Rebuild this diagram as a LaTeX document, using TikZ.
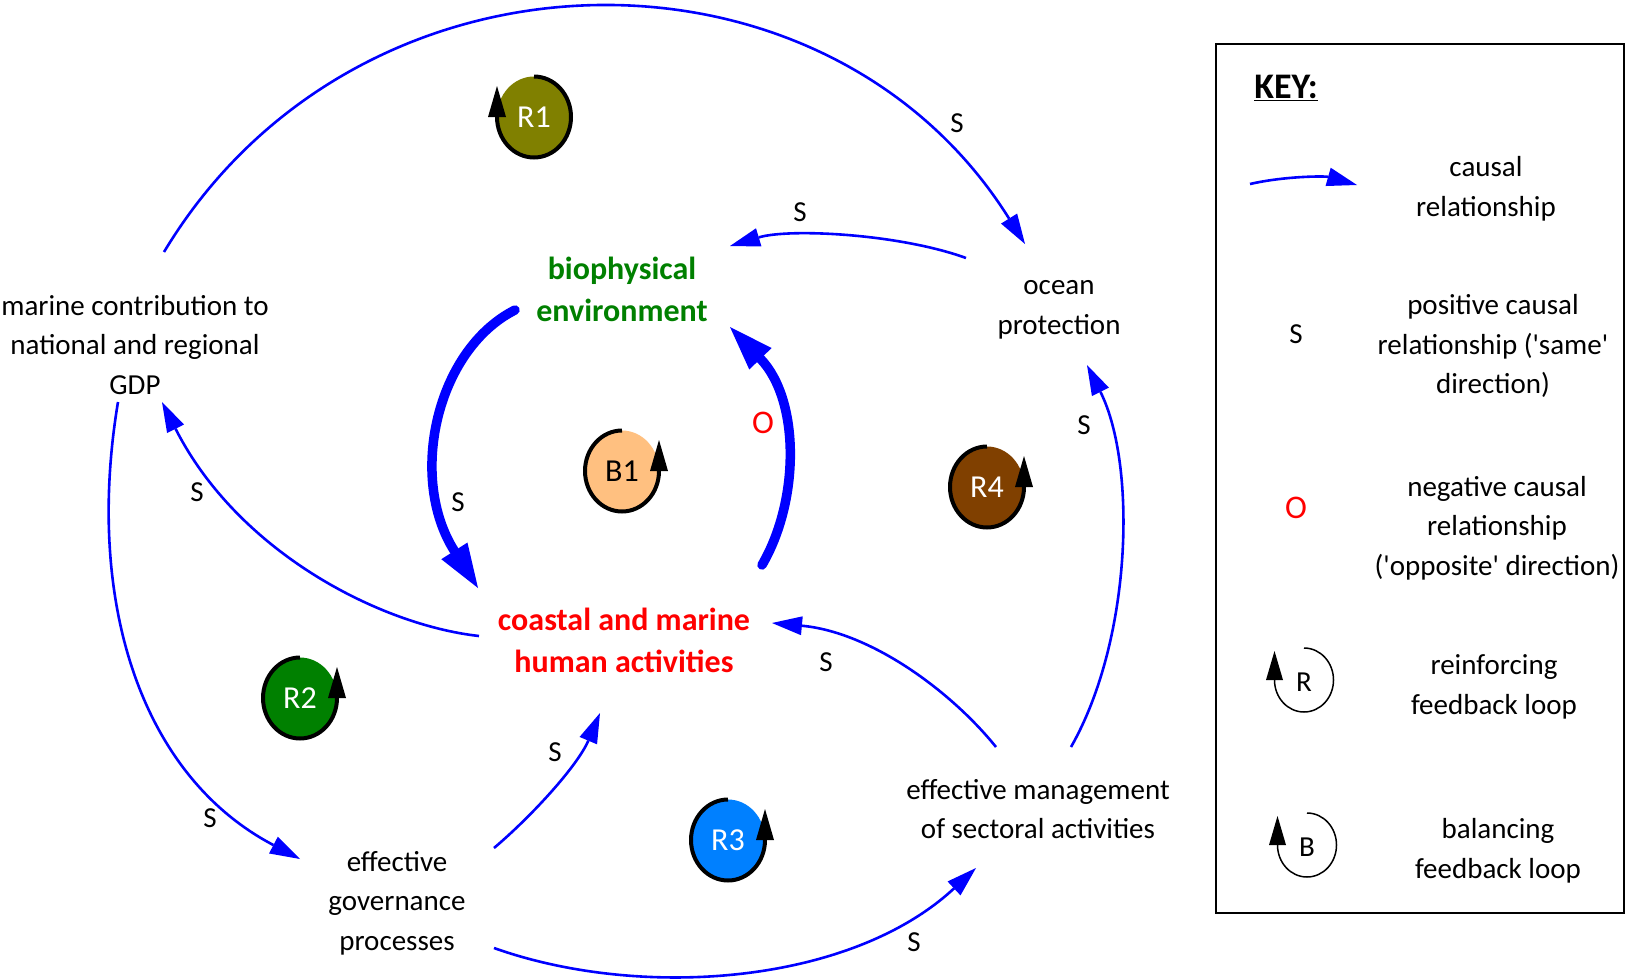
\documentclass[tikz,border=0pt]{standalone}
\usepackage{fontspec}
\setmainfont{Carlito}
\usetikzlibrary{arrows.meta,calc}
\definecolor{cblue}{RGB}{0,0,255}
\definecolor{biogreen}{RGB}{0,128,0}
\definecolor{loopolive}{RGB}{128,128,0}
\definecolor{loopgreen}{RGB}{0,128,0}
\definecolor{loopblue}{RGB}{0,128,255}
\definecolor{loopbrown}{RGB}{128,64,0}
\definecolor{looppeach}{RGB}{255,192,128}
\newcommand\mfs{\fontsize{29}{39.5}\selectfont}
\newcommand\bfs{\fontsize{32}{42}\selectfont\bfseries}
\newcommand\lfs{\fontsize{32}{36}\selectfont}
\newcommand\ofs{\fontsize{33}{36}\selectfont}
% loop symbol with arrow on the right
\newcommand\loopright[5]{%
  \fill[#4] (#2,#3) ellipse[x radius=37, y radius=40.5];
  \draw[line width=4pt] ($(#2,#3)+(0,-40.5)$) arc[start angle=-90, end angle=-360, x radius=37, y radius=40.5];
  \fill ($(#2,#3)+(28,0)$) -- ($(#2,#3)+(46,0)$) -- ($(#2,#3)+(37,-31)$) -- cycle;
  \node[looplabel] (#1) at (#2,#3) {#5};
}
% loop symbol with arrow on the left
\newcommand\loopleft[5]{%
  \fill[#4] (#2,#3) ellipse[x radius=37, y radius=40.5];
  \draw[line width=4pt] ($(#2,#3)+(0,-40.5)$) arc[start angle=-90, end angle=180, x radius=37, y radius=40.5];
  \fill ($(#2,#3)+(-46,0)$) -- ($(#2,#3)+(-28,0)$) -- ($(#2,#3)+(-37,-31)$) -- cycle;
  \node[looplabel] (#1) at (#2,#3) {#5};
}
% key symbol (open circle, arrow on the left)
\newcommand\keyloop[4]{%
  \draw[line width=1.5pt] ($(#2,#3)+(0,-32)$) arc[start angle=-90, end angle=180, x radius=29.5, y radius=32];
  \fill ($(#2,#3)+(-38,0)$) -- ($(#2,#3)+(-21,0)$) -- ($(#2,#3)+(-29.5,-29)$) -- cycle;
  \node[lbl] (#1) at (#2,#3+2) {#4};
}
\tikzset{
  txt/.style={align=center, font=\mfs, inner sep=0pt},
  btxt/.style={align=center, font=\bfs, inner sep=0pt},
  lbl/.style={font=\mfs, inner sep=0pt},
  olbl/.style={font=\ofs, text=red, inner sep=0pt},
  looplabel/.style={font=\lfs, text=white, inner sep=0pt},
  conn/.style={draw=cblue, line width=2.6pt, -{Triangle[length=30pt,width=19pt,line width=0pt]}},
  bigconn/.style={draw=cblue, line width=9.5pt, line cap=round, -{Triangle[length=44pt,width=31pt,line width=0pt]}}
}
\begin{document}
\begin{tikzpicture}[x=1pt,y=-1pt]
\useasboundingbox[fill=white] (0,0) rectangle (1626,980);

% ---- main nodes ----
\node[txt] (gdp) at (135,345) {marine contribution to\\national and regional\\GDP};
\node[txt] (ocean) at (1059,310) {ocean\\protection};
\node[btxt, text=biogreen] (bio) at (622,289) {biophysical\\environment};
\node[btxt, text=red] (coastal) at (624,640) {coastal and marine\\human activities};
\node[txt] (gov) at (397,903) {effective\\governance\\processes};
\node[txt] (mgmt) at (1038,809) {effective management\\of sectoral activities};

% ---- connectors ----
% GDP -> ocean protection (top arc)
\draw[conn] ([shift={(29,-93)}]gdp.center) .. controls (357,-69) and (826,-74) .. ([shift={(-34,-66)}]ocean.center);
% ocean protection -> biophysical
\draw[conn] ([shift={(-93,-52)}]ocean.center) .. controls (900,234) and (790,228) .. ([shift={(108,-43)}]bio.center);
% biophysical -> coastal (thick)
\draw[bigconn] ([shift={(-107,21)}]bio.center) .. controls (436,350) and (408,478) .. ([shift={(-146,-52)}]coastal.center);
% coastal -> biophysical (thick)
\draw[bigconn] ([shift={(138,-75)}]coastal.center) .. controls (800,500) and (800,400) .. ([shift={(108,38)}]bio.center);
% coastal -> GDP
\draw[conn] ([shift={(-145,-4)}]coastal.center) .. controls (380,625) and (238,552) .. ([shift={(27,57)}]gdp.center);
% GDP -> governance
\draw[conn] ([shift={(-17,57)}]gdp.center) .. controls (85,600) and (140,775) .. ([shift={(-97,-44)}]gov.center);
% governance -> coastal
\draw[conn] ([shift={(97,-55)}]gov.center) .. controls (533,815) and (578,765) .. ([shift={(-24,73)}]coastal.center);
% governance -> management
\draw[conn] ([shift={(97,45)}]gov.center) .. controls (640,1000) and (850,985) .. ([shift={(-62,59)}]mgmt.center);
% management -> coastal
\draw[conn] ([shift={(-42,-62)}]mgmt.center) .. controls (950,690) and (870,632) .. ([shift={(148,-17)}]coastal.center);
% management -> ocean protection
\draw[conn] ([shift={(33,-62)}]mgmt.center) .. controls (1132,640) and (1137,465) .. ([shift={(28,55)}]ocean.center);

% ---- polarity labels ----
\node[lbl] (s1) at (957,123) {S};
\node[lbl] (s2) at (800,212) {S};
\node[lbl] (s3) at (458,502) {S};
\node[olbl] (o1) at (763,423) {O};
\node[lbl] (s4) at (197,492) {S};
\node[lbl] (s5) at (210,818) {S};
\node[lbl] (s6) at (555,752) {S};
\node[lbl] (s7) at (914,942) {S};
\node[lbl] (s8) at (826,662) {S};
\node[lbl] (s9) at (1084,425) {S};

% ---- loop symbols ----
\loopleft{r1}{534}{117}{loopolive}{R1}
\loopright{b1}{622}{471}{looppeach}{\textcolor{black}{B1}}
\loopright{r4}{987}{487}{loopbrown}{R4}
\loopright{r2}{300}{698}{loopgreen}{R2}
\loopright{r3}{728}{840}{loopblue}{R3}

% ---- key ----
\node[draw, line width=2pt, minimum width=408, minimum height=869, inner sep=0pt] (keybox) at (1420,478.5) {};
\node[font=\fontsize{36}{40}\selectfont\bfseries, inner sep=0pt] (keytitle) at (1286,88) {\underline{KEY:}};
\coordinate (ka1) at (1250,184);
\coordinate (ka2) at (1357,185);
\draw[conn] (ka1) .. controls (1285,176) and (1325,176) .. (ka2);
\node[txt] (k1) at (1486,189) {causal\\relationship};
\node[lbl] (ks) at (1296,334) {S};
\node[txt] (k2) at (1493,346) {positive causal\\relationship (\textquotesingle same\textquotesingle\\direction)};
\node[olbl] (ko) at (1296,508) {O};
\node[txt] (k3) at (1497,528) {negative causal\\relationship\\(\textquotesingle opposite\textquotesingle{} direction)};
\keyloop{kr}{1304}{680}{R}
\node[txt] (k4) at (1494,687) {reinforcing\\feedback loop};
\keyloop{kb}{1307}{845}{B}
\node[txt] (k5) at (1498,851) {balancing\\feedback loop};
\end{tikzpicture}
\end{document}
